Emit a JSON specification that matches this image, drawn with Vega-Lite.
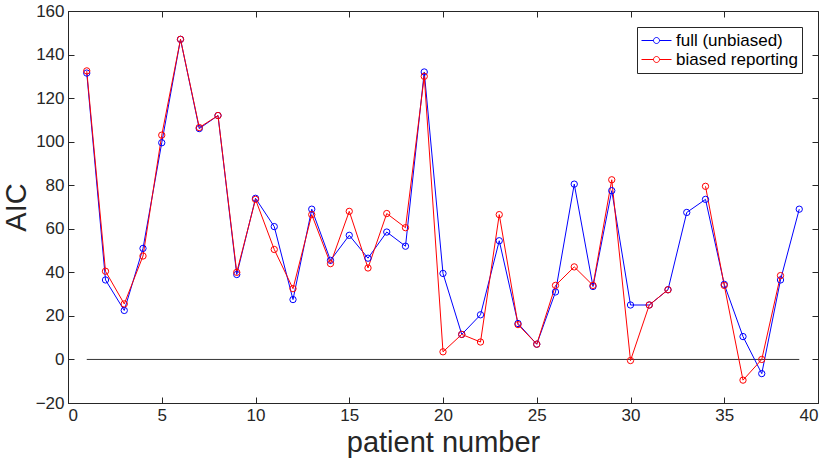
{
  "$schema": "https://vega.github.io/schema/vega-lite/v6.json",
  "width": 750,
  "height": 392,
  "autosize": {"type": "none"},
  "padding": {"left": 68, "top": 11, "right": 12, "bottom": 68},
  "background": "white",
  "config": {
    "font": "Liberation Sans",
    "view": {"stroke": "#262626", "strokeWidth": 1},
    "axis": {
      "domainColor": "#262626",
      "tickColor": "#262626",
      "tickSize": -6,
      "grid": false,
      "labelFont": "Liberation Sans",
      "labelFontSize": 17,
      "labelColor": "#262626",
      "titleFont": "Liberation Sans",
      "titleFontWeight": "normal",
      "titleFontSize": 29,
      "titleColor": "#262626"
    }
  },
  "datasets": {
    "aic": [
      {"patient": 1, "series": "full (unbiased)", "AIC": 131.5},
      {"patient": 2, "series": "full (unbiased)", "AIC": 36.5},
      {"patient": 3, "series": "full (unbiased)", "AIC": 22.5},
      {"patient": 4, "series": "full (unbiased)", "AIC": 51},
      {"patient": 5, "series": "full (unbiased)", "AIC": 99.5},
      {"patient": 6, "series": "full (unbiased)", "AIC": 147},
      {"patient": 7, "series": "full (unbiased)", "AIC": 106},
      {"patient": 8, "series": "full (unbiased)", "AIC": 112},
      {"patient": 9, "series": "full (unbiased)", "AIC": 39},
      {"patient": 10, "series": "full (unbiased)", "AIC": 74},
      {"patient": 11, "series": "full (unbiased)", "AIC": 61},
      {"patient": 12, "series": "full (unbiased)", "AIC": 27.5},
      {"patient": 13, "series": "full (unbiased)", "AIC": 69},
      {"patient": 14, "series": "full (unbiased)", "AIC": 45.5},
      {"patient": 15, "series": "full (unbiased)", "AIC": 57},
      {"patient": 16, "series": "full (unbiased)", "AIC": 46.5},
      {"patient": 17, "series": "full (unbiased)", "AIC": 58.5},
      {"patient": 18, "series": "full (unbiased)", "AIC": 52},
      {"patient": 19, "series": "full (unbiased)", "AIC": 132},
      {"patient": 20, "series": "full (unbiased)", "AIC": 39.5},
      {"patient": 21, "series": "full (unbiased)", "AIC": 11.5},
      {"patient": 22, "series": "full (unbiased)", "AIC": 20.5},
      {"patient": 23, "series": "full (unbiased)", "AIC": 54.5},
      {"patient": 24, "series": "full (unbiased)", "AIC": 16.5},
      {"patient": 25, "series": "full (unbiased)", "AIC": 7},
      {"patient": 26, "series": "full (unbiased)", "AIC": 31},
      {"patient": 27, "series": "full (unbiased)", "AIC": 80.5},
      {"patient": 28, "series": "full (unbiased)", "AIC": 33.5},
      {"patient": 29, "series": "full (unbiased)", "AIC": 77.5},
      {"patient": 30, "series": "full (unbiased)", "AIC": 25},
      {"patient": 31, "series": "full (unbiased)", "AIC": 25},
      {"patient": 32, "series": "full (unbiased)", "AIC": 32},
      {"patient": 33, "series": "full (unbiased)", "AIC": 67.5},
      {"patient": 34, "series": "full (unbiased)", "AIC": 73.5},
      {"patient": 35, "series": "full (unbiased)", "AIC": 34.5},
      {"patient": 36, "series": "full (unbiased)", "AIC": 10.5},
      {"patient": 37, "series": "full (unbiased)", "AIC": -6.5},
      {"patient": 38, "series": "full (unbiased)", "AIC": 36.5},
      {"patient": 39, "series": "full (unbiased)", "AIC": 69},
      {"patient": 1, "series": "biased reporting", "AIC": 132.5},
      {"patient": 2, "series": "biased reporting", "AIC": 40.5},
      {"patient": 3, "series": "biased reporting", "AIC": 25.5},
      {"patient": 4, "series": "biased reporting", "AIC": 47.5},
      {"patient": 5, "series": "biased reporting", "AIC": 103},
      {"patient": 6, "series": "biased reporting", "AIC": 147},
      {"patient": 7, "series": "biased reporting", "AIC": 106.5},
      {"patient": 8, "series": "biased reporting", "AIC": 112},
      {"patient": 9, "series": "biased reporting", "AIC": 40},
      {"patient": 10, "series": "biased reporting", "AIC": 73.5},
      {"patient": 11, "series": "biased reporting", "AIC": 50.5},
      {"patient": 12, "series": "biased reporting", "AIC": 32.5},
      {"patient": 13, "series": "biased reporting", "AIC": 66.5},
      {"patient": 14, "series": "biased reporting", "AIC": 44},
      {"patient": 15, "series": "biased reporting", "AIC": 68},
      {"patient": 16, "series": "biased reporting", "AIC": 42},
      {"patient": 17, "series": "biased reporting", "AIC": 67},
      {"patient": 18, "series": "biased reporting", "AIC": 60.5},
      {"patient": 19, "series": "biased reporting", "AIC": 130},
      {"patient": 20, "series": "biased reporting", "AIC": 3.5},
      {"patient": 21, "series": "biased reporting", "AIC": 11.5},
      {"patient": 22, "series": "biased reporting", "AIC": 8},
      {"patient": 23, "series": "biased reporting", "AIC": 66.5},
      {"patient": 24, "series": "biased reporting", "AIC": 16},
      {"patient": 25, "series": "biased reporting", "AIC": 7},
      {"patient": 26, "series": "biased reporting", "AIC": 34},
      {"patient": 27, "series": "biased reporting", "AIC": 42.5},
      {"patient": 28, "series": "biased reporting", "AIC": 34},
      {"patient": 29, "series": "biased reporting", "AIC": 82.5},
      {"patient": 30, "series": "biased reporting", "AIC": -0.5},
      {"patient": 31, "series": "biased reporting", "AIC": 25},
      {"patient": 32, "series": "biased reporting", "AIC": 32},
      {"patient": 33, "series": "biased reporting", "AIC": null},
      {"patient": 34, "series": "biased reporting", "AIC": 79.5},
      {"patient": 35, "series": "biased reporting", "AIC": 34},
      {"patient": 36, "series": "biased reporting", "AIC": -9.5},
      {"patient": 37, "series": "biased reporting", "AIC": 0},
      {"patient": 38, "series": "biased reporting", "AIC": 38.5},
      {"patient": 39, "series": "biased reporting", "AIC": null}
    ],
    "zero": [{"start": 1, "end": 39, "level": 0}]
  },
  "resolve": {"axis": {"x": "independent", "y": "independent"}},
  "layer": [
    {
      "data": {"name": "zero"},
      "mark": {"type": "rule", "color": "#000000", "strokeWidth": 0.8},
      "encoding": {
        "x": {"field": "start", "type": "quantitative", "scale": {"domain": [0, 40], "nice": false},
              "axis": {"orient": "top", "labels": false, "title": null, "values": [0,5,10,15,20,25,30,35,40], "domain": false}},
        "x2": {"field": "end"},
        "y": {"field": "level", "type": "quantitative", "scale": {"domain": [-20, 160], "nice": false},
              "axis": {"orient": "right", "labels": false, "title": null, "values": [-20,0,20,40,60,80,100,120,140,160], "domain": false}}
      }
    },
    {
      "data": {"name": "aic"},
      "mark": {"type": "line", "strokeWidth": 1, "point": {"filled": false, "size": 40, "strokeWidth": 1}},
      "encoding": {
        "x": {"field": "patient", "type": "quantitative", "scale": {"domain": [0, 40], "nice": false},
              "axis": {"orient": "bottom", "title": "patient number", "values": [0,5,10,15,20,25,30,35,40], "labelPadding": 10, "titlePadding": 5}},
        "y": {"field": "AIC", "type": "quantitative", "scale": {"domain": [-20, 160], "nice": false},
              "axis": {"orient": "left", "title": "AIC", "values": [-20,0,20,40,60,80,100,120,140,160], "labelPadding": 10, "titlePadding": 4}},
        "color": {
          "field": "series", "type": "nominal",
          "scale": {"domain": ["full (unbiased)", "biased reporting"], "range": ["#0000ff", "#ff0000"]},
          "legend": {
            "title": null,
            "orient": "none",
            "legendX": 569,
            "legendY": 16,
            "labelFontSize": 17,
            "labelFont": "Liberation Sans",
            "labelColor": "#000000",
            "symbolType": "M-1,0L-0.2,0M0.2,0L1,0M0.2,0A0.2,0.2 0 1,1 -0.2,0A0.2,0.2 0 1,1 0.2,0",
            "symbolSize": 900,
            "symbolStrokeWidth": 1,
            "symbolFillColor": "transparent",
            "clipHeight": 19,
            "strokeColor": "#262626",
            "fillColor": "white",
            "padding": 4,
            "rowPadding": 0,
            "labelOffset": 4
          }
        },
        "order": {"field": "patient", "type": "quantitative"}
      }
    }
  ]
}
